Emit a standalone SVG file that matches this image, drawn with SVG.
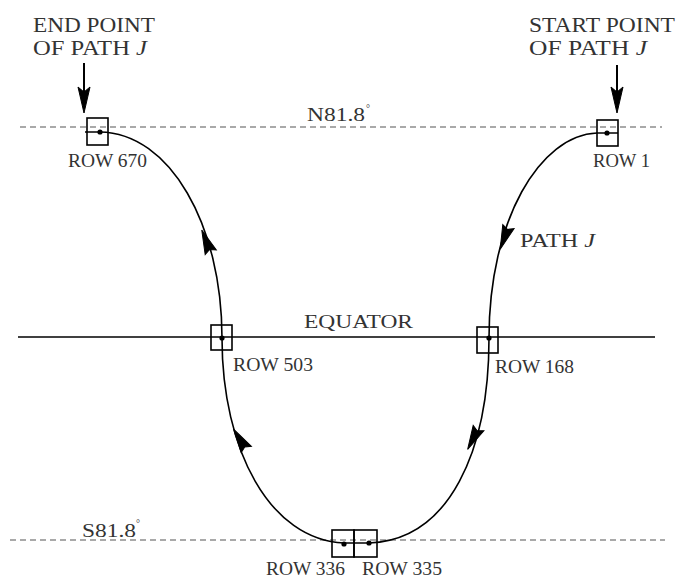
<svg xmlns="http://www.w3.org/2000/svg" width="680" height="578" viewBox="0 0 680 578">
<style>
text{font-family:"Liberation Serif","Times New Roman",serif;fill:#333}
.t{font-size:21px}
.r{font-size:18px}
.lat{stroke:#555;stroke-width:1.2;stroke-dasharray:6,4;fill:none}
.box{fill:none;stroke:#000;stroke-width:1.6}
.cur{fill:none;stroke:#000;stroke-width:1.6}
.ah{fill:#000;stroke:#000;stroke-width:1}
</style>
<defs>
<path id="head" d="M0,-14 L6,10 L0,7 L-6,10 Z"/>
</defs>
<rect width="680" height="578" fill="#fff"/>
<g id="lines">
<line class="lat" x1="20" y1="127" x2="662" y2="127"/>
<line class="lat" x1="10" y1="540" x2="665" y2="540"/>
<line x1="18" y1="337" x2="655" y2="337" stroke="#000" stroke-width="1.6"/>
<text x="307" y="121" class="r" textLength="58" lengthAdjust="spacingAndGlyphs">N81.8</text><text x="366" y="112" style="font-size:10px">°</text>
<text x="82" y="537" class="r" textLength="54" lengthAdjust="spacingAndGlyphs">S81.8</text><text x="136" y="527" style="font-size:10px">°</text>
<text x="304" y="328" class="r" textLength="109" lengthAdjust="spacingAndGlyphs">EQUATOR</text>
</g>
<g id="connectors">
<path class="cur" d="M618,133 L597,133 C 540,135 489,220 489,338 C 489,450 450,540 369,543 L344,543 C 270,540 222,450 222,338 C 222,225 170,133 100,132 L85,132"/>
<use href="#head" class="ah" transform="translate(207,243) rotate(-22)"/>
<use href="#head" class="ah" transform="translate(241,441) rotate(-32)"/>
<use href="#head" class="ah" transform="translate(505,236) rotate(-160)"/>
<use href="#head" class="ah" transform="translate(474,437) rotate(-153)"/>
<line x1="84" y1="63" x2="84" y2="100" stroke="#000" stroke-width="2"/>
<path d="M84,113 L78,87 L84,92 L90,87 Z" class="ah"/>
<line x1="617" y1="65" x2="617" y2="100" stroke="#000" stroke-width="2"/>
<path d="M617,113 L611,87 L617,92 L623,87 Z" class="ah"/>
</g>
<g id="row670">
<rect class="box" x="87" y="118" width="21" height="27"/>
<circle cx="100" cy="132" r="2.6"/>
<text x="68" y="167" class="r" textLength="79" lengthAdjust="spacingAndGlyphs">ROW 670</text>
</g>
<g id="row1">
<rect class="box" x="597" y="120" width="21" height="26"/>
<circle cx="607" cy="133" r="2.6"/>
<text x="593" y="167" class="r" textLength="57" lengthAdjust="spacingAndGlyphs">ROW 1</text>
</g>
<g id="row503">
<rect class="box" x="211" y="325" width="21" height="25"/>
<circle cx="222" cy="338" r="2.6"/>
<text x="233" y="371" class="r" textLength="80" lengthAdjust="spacingAndGlyphs">ROW 503</text>
</g>
<g id="row168">
<rect class="box" x="477" y="327" width="21" height="26"/>
<circle cx="489" cy="338" r="2.6"/>
<text x="495" y="373" class="r" textLength="79" lengthAdjust="spacingAndGlyphs">ROW 168</text>
</g>
<g id="row336">
<rect class="box" x="332" y="530" width="22" height="27"/>
<circle cx="344" cy="544" r="2.6"/>
<text x="266" y="575" class="r" textLength="79" lengthAdjust="spacingAndGlyphs">ROW 336</text>
</g>
<g id="row335">
<rect class="box" x="354" y="530" width="23" height="27"/>
<circle cx="369" cy="543" r="2.6"/>
<text x="362" y="575" class="r" textLength="80" lengthAdjust="spacingAndGlyphs">ROW 335</text>
</g>
<g id="endlabel">
<text x="33" y="32" class="t" textLength="122" lengthAdjust="spacingAndGlyphs">END POINT</text>
<text x="33" y="55" class="t" textLength="114" lengthAdjust="spacingAndGlyphs">OF PATH <tspan font-style="italic">J</tspan></text>
</g>
<g id="startlabel">
<text x="529" y="32" class="t" textLength="146" lengthAdjust="spacingAndGlyphs">START POINT</text>
<text x="529" y="55" class="t" textLength="118" lengthAdjust="spacingAndGlyphs">OF PATH <tspan font-style="italic">J</tspan></text>
</g>
<g id="pathlabel">
<text x="520" y="247" class="r" textLength="75" lengthAdjust="spacingAndGlyphs">PATH <tspan font-style="italic">J</tspan></text>
</g>
</svg>
